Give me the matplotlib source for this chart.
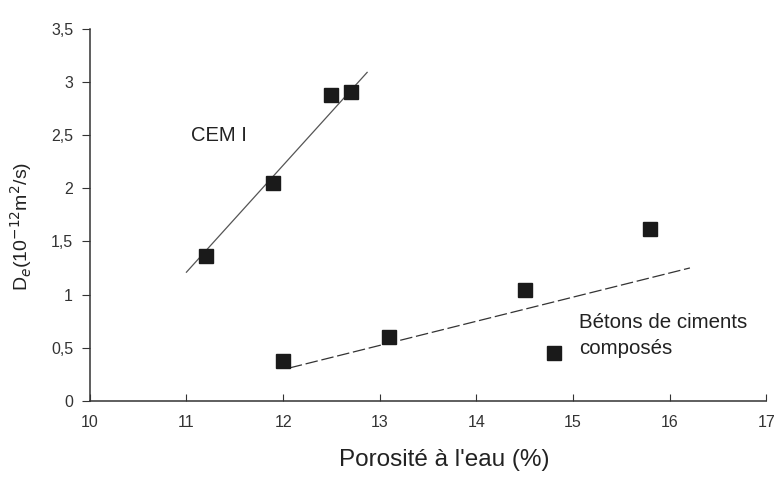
import matplotlib
matplotlib.use("Agg")
import matplotlib.pyplot as plt
from matplotlib.ticker import FuncFormatter

plt.rcParams['font.family'] = ['Liberation Sans', 'DejaVu Sans']

# Data
cem_x = [11.2, 11.9, 12.5, 12.7]
cem_y = [1.36, 2.05, 2.88, 2.91]
comp_x = [12.0, 13.1, 14.5, 14.8, 15.8]
comp_y = [0.37, 0.60, 1.04, 0.45, 1.62]
cem_fit_x = [11.0, 12.87]
cem_fit_y = [1.21, 3.09]
comp_fit_x = [12.07, 16.21]
comp_fit_y = [0.31, 1.25]
x_ticks = [10, 11, 12, 13, 14, 15, 16, 17]
y_ticks = [0, 0.5, 1, 1.5, 2, 2.5, 3, 3.5]

fig = plt.figure(figsize=(7.74, 4.8), dpi=100)
ax = fig.add_axes([0.116, 0.165, 0.874, 0.775])

ax.plot(cem_fit_x, cem_fit_y, color='#555555', lw=0.9, ls='-')
ax.plot(comp_fit_x, comp_fit_y, color='#333333', lw=0.9, ls=(0, (10, 3)))
ax.plot(cem_x, cem_y, ls='none', marker='s', ms=9.5, color='#1a1a1a')
ax.plot(comp_x, comp_y, ls='none', marker='s', ms=9.5, color='#1a1a1a')

ax.text(11.05, 2.5, 'CEM I', fontsize=14.5, va='center', ha='left', color='#222222')
ax.text(15.06, 0.74, 'Bétons de ciments', fontsize=14.8, va='center', ha='left', color='#222222')
ax.text(15.06, 0.49, 'composés', fontsize=14.8, va='center', ha='left', color='#222222')

ax.set_xlim(10, 17)
ax.set_ylim(0, 3.5)
ax.set_xticks(x_ticks)
ax.set_yticks(y_ticks)
fmt = FuncFormatter(lambda v, p: ('%g' % v).replace('.', ','))
ax.xaxis.set_major_formatter(fmt)
ax.yaxis.set_major_formatter(fmt)

for s in ['top', 'right']:
    ax.spines[s].set_visible(False)
for s in ['left', 'bottom']:
    ax.spines[s].set_color('#333333')
    ax.spines[s].set_linewidth(1.1)

ax.tick_params(axis='x', direction='in', length=5, labelsize=11.5, colors='#333333', pad=10)
ax.tick_params(axis='y', direction='out', length=6, labelsize=11.5, colors='#333333', pad=6)

ax.set_xlabel("Porosité à l'eau (%)", fontsize=17.5, color='#222222')
ax.xaxis.set_label_coords(0.524, -0.13)
ax.set_ylabel(r'D$_e$(10$^{-12}$m$^2$/s)', fontsize=14, color='#222222')
ax.yaxis.set_label_coords(-0.082, 0.47)

fig.savefig('out.png', dpi=100, facecolor='white')
